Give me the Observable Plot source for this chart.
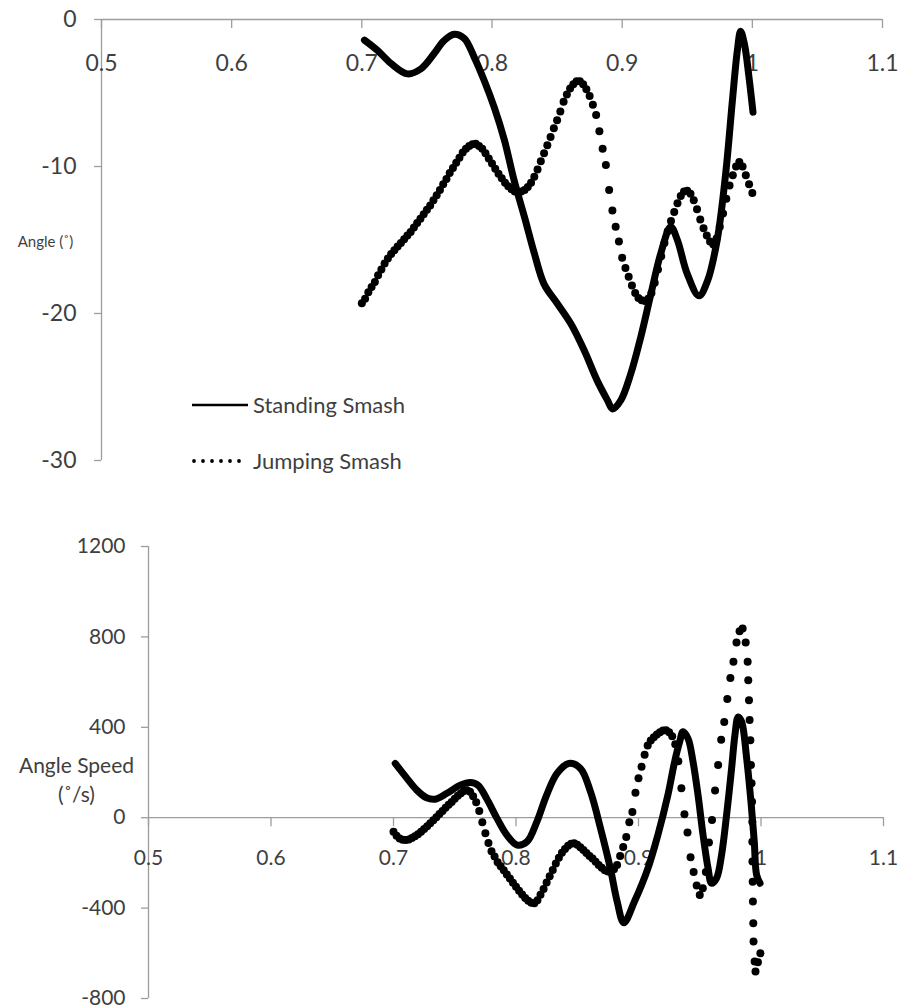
<!DOCTYPE html>
<html><head><meta charset="utf-8">
<script src="https://cdn.jsdelivr.net/npm/d3@7"></script>
<script src="https://cdn.jsdelivr.net/npm/@observablehq/plot@0.6"></script>
<style>
body{margin:0;background:#fff;font-family:Lato,"Open Sans",sans-serif;}
#wrap{position:relative;width:904px;height:1008px;overflow:hidden;}
#topChart{position:absolute;left:0;top:0;}
#bottomChart{position:absolute;left:0;top:500px;}
#legend{position:absolute;left:0;top:0;}
</style></head><body>
<div id="wrap"><div id="topChart"></div><div id="bottomChart"></div>
<svg id="legend" width="904" height="500" xmlns="http://www.w3.org/2000/svg"></svg></div>
<script>
// ---------- data ----------
const xTicks = [0.5, 0.6, 0.7, 0.8, 0.9, 1.0, 1.1];
const angleYTicks = [0, -10, -20, -30];
const speedYTicks = [1200, 800, 400, 0, -400, -800];
const seriesNames = ["Standing Smash", "Jumping Smash"];
const angleTitle = "Angle (˚)";
const speedTitle = "Angle Speed\n(˚/s)";

// Angle, Standing Smash (solid) [x, angle]
const angleStanding = [[0.702,-1.4],[0.712,-2.1],[0.7225,-3.0],[0.735,-3.7],[0.7455,-3.35],[0.7557,-2.3],[0.763,-1.45],[0.771,-1.0],[0.7788,-1.3],[0.7865,-2.6],[0.794,-4.15],[0.8018,-6.0],[0.8095,-8.2],[0.817,-10.95],[0.825,-13.45],[0.8325,-15.9],[0.840,-18.0],[0.850,-19.3],[0.8606,-20.7],[0.8708,-22.5],[0.881,-24.6],[0.8887,-25.9],[0.8926,-26.5],[0.899,-25.9],[0.9066,-24.1],[0.9143,-21.6],[0.922,-18.7],[0.9297,-15.9],[0.9373,-14.1],[0.9424,-15.0],[0.950,-17.3],[0.959,-18.8],[0.9655,-17.8],[0.973,-15.0],[0.9795,-10.5],[0.9847,-5.5],[0.9885,-2.1],[0.991,-0.8],[0.994,-1.7],[0.9974,-3.9],[1.0005,-6.3]];

// Angle, Jumping Smash (dots) [x, angle]
const angleJumping = [[0.7000,-19.3],[0.7025,-19.0],[0.7050,-18.55],[0.7075,-18.2],[0.7100,-17.85],[0.7125,-17.4],[0.7150,-17.0],[0.7175,-16.6],[0.7200,-16.25],[0.7225,-15.95],[0.7250,-15.7],[0.7275,-15.45],[0.7300,-15.2],[0.7325,-14.95],[0.7350,-14.7],[0.7375,-14.45],[0.7400,-14.15],[0.7425,-13.85],[0.7450,-13.55],[0.7475,-13.25],[0.7500,-12.95],[0.7525,-12.65],[0.7550,-12.3],[0.7575,-11.95],[0.7600,-11.6],[0.7625,-11.2],[0.7650,-10.85],[0.7675,-10.45],[0.7700,-10.1],[0.7725,-9.75],[0.7750,-9.4],[0.7775,-9.05],[0.7800,-8.8],[0.7825,-8.6],[0.7850,-8.48],[0.7875,-8.46],[0.7900,-8.6],[0.7925,-8.8],[0.7950,-9.1],[0.7975,-9.45],[0.8000,-9.8],[0.8025,-10.15],[0.8050,-10.5],[0.8075,-10.8],[0.8100,-11.1],[0.8125,-11.35],[0.8150,-11.55],[0.8175,-11.7],[0.8200,-11.75],[0.8225,-11.7],[0.8250,-11.6],[0.8275,-11.4],[0.8300,-11.1],[0.8325,-10.7],[0.8350,-10.2],[0.8375,-9.65],[0.8400,-9.1],[0.8425,-8.55],[0.8450,-8.0],[0.8475,-7.4],[0.8500,-6.85],[0.8525,-6.25],[0.8550,-5.6],[0.8575,-5.1],[0.8600,-4.7],[0.8625,-4.4],[0.8650,-4.2],[0.8675,-4.2],[0.8700,-4.4],[0.8725,-4.75],[0.8750,-5.2],[0.8775,-5.8],[0.8800,-6.5],[0.8825,-7.6],[0.8850,-8.8],[0.8875,-9.9],[0.8900,-11.6],[0.8925,-13.0],[0.8950,-14.1],[0.8975,-15.1],[0.9000,-16.2],[0.9025,-16.9],[0.9050,-17.5],[0.9075,-18.1],[0.9100,-18.6],[0.9125,-18.95],[0.9150,-19.1],[0.9175,-19.15],[0.9200,-19.0],[0.9225,-18.6],[0.9250,-17.9],[0.9275,-17.0],[0.9300,-16.1],[0.9325,-15.2],[0.9350,-14.4],[0.9375,-13.7],[0.9400,-13.1],[0.9425,-12.5],[0.9450,-12.0],[0.9475,-11.7],[0.9500,-11.65],[0.9525,-11.85],[0.9550,-12.3],[0.9575,-12.9],[0.9600,-13.6],[0.9625,-14.2],[0.9650,-14.7],[0.9675,-15.1],[0.9700,-15.3],[0.9725,-14.9],[0.9750,-14.1],[0.9775,-13.2],[0.9800,-12.2],[0.9825,-11.3],[0.9850,-10.6],[0.9875,-10.0],[0.9900,-9.7],[0.9925,-10.0],[0.9950,-10.6],[0.9975,-11.2],[1.0000,-11.8]];

// Angle speed, Standing Smash (solid) [x, deg/s]
const speedStanding = [[0.7014,240],[0.711,174],[0.719,122],[0.727,88],[0.734,82],[0.7436,108],[0.7545,144],[0.7627,156],[0.769,144],[0.776,85],[0.7845,-3],[0.7926,-77],[0.801,-121],[0.809,-106],[0.817,-18],[0.825,100],[0.8335,196],[0.843,240],[0.8526,218],[0.8608,115],[0.869,-47],[0.877,-224],[0.8826,-371],[0.888,-465],[0.8967,-371],[0.9077,-224],[0.9158,-77],[0.924,100],[0.9295,248],[0.9336,336],[0.9363,380],[0.9404,351],[0.9445,248],[0.9486,100],[0.9527,-77],[0.9568,-224],[0.9596,-290],[0.9637,-268],[0.9678,-165],[0.9719,12],[0.976,218],[0.9787,365],[0.9814,446],[0.9842,424],[0.9883,262],[0.9918,71],[0.9945,-106],[0.9964,-253],[0.9992,-290]];

// Angle speed, Jumping Smash (dots) [x, deg/s]
const speedJumping = [[0.7000,-62],[0.7025,-80],[0.7050,-92],[0.7075,-98],[0.7100,-99],[0.7125,-96],[0.7150,-90],[0.7175,-82],[0.7200,-73],[0.7225,-62],[0.7250,-50],[0.7275,-38],[0.7300,-25],[0.7325,-11],[0.7350,2],[0.7375,16],[0.7400,30],[0.7425,44],[0.7450,57],[0.7475,70],[0.7500,84],[0.7525,97],[0.7550,108],[0.7575,118],[0.7600,122],[0.7625,115],[0.7650,95],[0.7675,68],[0.7700,30],[0.7725,-20],[0.7750,-69],[0.7775,-112],[0.7800,-148],[0.7825,-172],[0.7850,-197],[0.7875,-215],[0.7900,-233],[0.7925,-251],[0.7950,-269],[0.7975,-288],[0.8000,-306],[0.8025,-323],[0.8050,-340],[0.8075,-355],[0.8100,-367],[0.8125,-376],[0.8150,-378],[0.8175,-365],[0.8200,-341],[0.8225,-315],[0.8250,-287],[0.8275,-259],[0.8300,-231],[0.8325,-203],[0.8350,-177],[0.8375,-155],[0.8400,-138],[0.8425,-124],[0.8450,-115],[0.8475,-113],[0.8500,-120],[0.8525,-131],[0.8550,-143],[0.8575,-156],[0.8600,-169],[0.8625,-181],[0.8650,-195],[0.8675,-209],[0.8700,-222],[0.8725,-232],[0.8750,-238],[0.8775,-239],[0.8800,-228],[0.8825,-209],[0.8850,-170],[0.8875,-130],[0.8900,-85],[0.8925,-20],[0.8950,25],[0.8975,110],[0.9000,175],[0.9025,225],[0.9050,278],[0.9075,320],[0.9100,342],[0.9125,356],[0.9150,368],[0.9175,378],[0.9200,386],[0.9225,387],[0.9250,378],[0.9275,360],[0.9300,325],[0.9325,250],[0.9350,130],[0.9375,15],[0.9400,-65],[0.9425,-175],[0.9450,-240],[0.9475,-300],[0.9500,-342],[0.9525,-312],[0.9550,-240],[0.9575,-110],[0.9600,-10],[0.9625,120],[0.9650,233],[0.9675,345],[0.9700,424],[0.9725,525],[0.9750,618],[0.9775,690],[0.9800,775],[0.9825,825],[0.9850,837],[0.9875,775],[0.9891,690],[0.9896,608],[0.9902,520],[0.9907,432],[0.9913,343],[0.9918,233],[0.9923,152],[0.9927,71],[0.9929,-18],[0.9929,-106],[0.9930,-194],[0.9932,-283],[0.9934,-371],[0.9937,-467],[0.9939,-548],[0.9948,-636],[0.9955,-681],[0.9975,-640],[0.9995,-600]];

// ---------- styles ----------
const axisGray = "#9d9d9d";
const textGray = "#3f3f3f";
const font = "Lato, 'Open Sans', sans-serif";
const fmt = d => String(d);

function panel({height, marginTop, marginBottom, marginLeft, marginRight, yDomain, yTicks, tickFont, xLabelDy, yLabelDx, title, titleFont, titleDx, titleDy, standing, jumping}) {
  return Plot.plot({
    width: 904, height, marginTop, marginBottom, marginLeft, marginRight,
    x: {domain: [0.5, 1.1], axis: null},
    y: {domain: yDomain, axis: null},
    style: {fontFamily: font, background: "transparent", overflow: "visible"},
    marks: [
      Plot.ruleX([0.5], {stroke: axisGray, strokeWidth: 1.3}),
      Plot.ruleY([0], {stroke: axisGray, strokeWidth: 1.3}),
      Plot.ruleY(yTicks, {y: d => d, x1: () => 0.5, x2: () => 0.5, insetLeft: -7, stroke: axisGray, strokeWidth: 1.3}),
      Plot.ruleX(xTicks, {x: d => d, y1: () => 0, y2: () => 0, insetBottom: -9, stroke: axisGray, strokeWidth: 1.3}),
      Plot.text(yTicks, {y: d => d, frameAnchor: "left", dx: yLabelDx, textAnchor: "end", text: fmt, fontSize: tickFont, fill: textGray}),
      Plot.text(xTicks, {x: d => d, y: () => 0, dy: xLabelDy, text: fmt, fontSize: tickFont, fill: textGray}),
      Plot.text([title], {frameAnchor: "left", dx: titleDx, dy: titleDy, textAnchor: "middle", lineHeight: 1.35, fontSize: titleFont, fill: textGray}),
      Plot.line(standing, {x: d => d[0], y: d => d[1], curve: "catmull-rom", stroke: "black", strokeWidth: 7, strokeLinecap: "round", strokeLinejoin: "round"}),
      Plot.dot(jumping, {x: d => d[0], y: d => d[1], r: 4, fill: "black", stroke: null})
    ]
  });
}

document.getElementById("topChart").append(panel({
  height: 480, marginTop: 19, marginBottom: 20, marginLeft: 101, marginRight: 22,
  yDomain: [-30, 0], yTicks: angleYTicks, tickFont: 23, xLabelDy: 44, yLabelDx: -25,
  title: angleTitle, titleFont: 15, titleDx: -56, titleDy: 1,
  standing: angleStanding, jumping: angleJumping
}));

document.getElementById("bottomChart").append(panel({
  height: 508, marginTop: 46, marginBottom: 10, marginLeft: 148, marginRight: 21,
  yDomain: [-800, 1200], yTicks: speedYTicks, tickFont: 21, xLabelDy: 41, yLabelDx: -23,
  title: speedTitle, titleFont: 21, titleDx: -72, titleDy: 6,
  standing: speedStanding, jumping: speedJumping
}));

// ---------- legend (inside the top panel) ----------
const leg = d3.select("#legend");
const rows = [{name: seriesNames[0], y: 405, solid: true}, {name: seriesNames[1], y: 461, solid: false}];
rows.forEach(r => {
  if (r.solid) {
    leg.append("line").attr("x1", 192).attr("x2", 248).attr("y1", r.y).attr("y2", r.y)
      .attr("stroke", "black").attr("stroke-width", 2.6);
  } else {
    d3.range(6).forEach(i => leg.append("circle").attr("cx", 194 + i * 9).attr("cy", r.y).attr("r", 1.9).attr("fill", "black"));
  }
  leg.append("text").attr("x", 253).attr("y", r.y).attr("dy", "0.35em")
    .attr("font-family", font).attr("font-size", 22).attr("fill", textGray).text(r.name);
});
</script>
</body></html>
